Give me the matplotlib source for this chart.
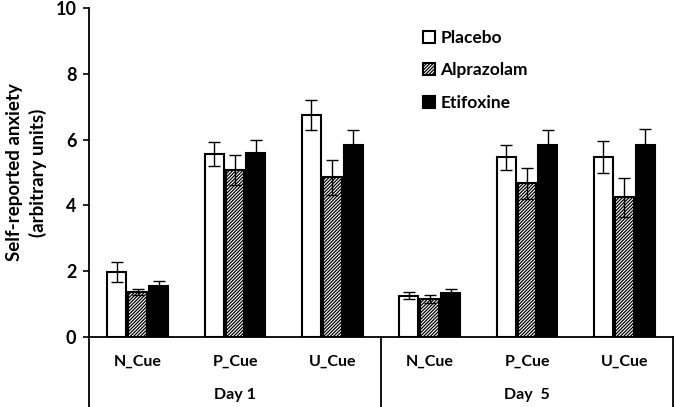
import numpy as np
import matplotlib as mpl
mpl.use('Agg')
import matplotlib.pyplot as plt

mpl.rcParams.update({
    'font.family': ['Lato', 'DejaVu Sans'],
    'font.weight': 'bold',
    'axes.labelweight': 'bold',
    'font.size': 11.5,
    'hatch.linewidth': 0.9,
})

cues = ['N_Cue', 'P_Cue', 'U_Cue', 'N_Cue', 'P_Cue', 'U_Cue']
days = ['Day 1', 'Day  5']
groups = ['Placebo', 'Alprazolam', 'Etifoxine']

placebo = [1.98, 5.57, 6.75, 1.25, 5.46, 5.46]
placebo_err = [0.30, 0.37, 0.45, 0.11, 0.38, 0.49]
alprazolam = [1.37, 5.08, 4.85, 1.16, 4.67, 4.25]
alprazolam_err = [0.10, 0.46, 0.53, 0.12, 0.48, 0.59]
etifoxine = [1.55, 5.58, 5.84, 1.33, 5.84, 5.84]
etifoxine_err = [0.15, 0.42, 0.45, 0.14, 0.45, 0.49]

fig = plt.figure(figsize=(6.76, 4.07), dpi=100)
ax = fig.add_axes([89 / 676, 70 / 407, 584 / 676, 329 / 407])

x = np.arange(len(cues))
w = 0.195
step = 0.215
ekw = dict(ecolor='black', elinewidth=1.0, capsize=4, capthick=1.0)

ax.bar(x - step, placebo, w, yerr=placebo_err, color='white',
       edgecolor='black', linewidth=1.5, error_kw=ekw, label=groups[0], zorder=2)
ax.bar(x, alprazolam, w, yerr=alprazolam_err, color='white',
       edgecolor='black', linewidth=1.5, hatch='//////////', error_kw=ekw,
       label=groups[1], zorder=2)
ax.bar(x + step, etifoxine, w, yerr=etifoxine_err, color='black',
       edgecolor='black', linewidth=1.5, error_kw=ekw, label=groups[2], zorder=2)

ax.set_xlim(-0.5, 5.5)
ax.set_ylim(0, 10)
ax.set_yticks(np.arange(0, 11, 2))
ax.set_xticks([])
ax.tick_params(axis='y', direction='out', length=4, width=1.2, labelsize=13, pad=5)
for s in ['top', 'right']:
    ax.spines[s].set_visible(False)
ax.spines['left'].set_linewidth(1.3)
ax.spines['bottom'].set_linewidth(1.3)

# category axis below zero line
trans = ax.get_xaxis_transform()
low = -70 / 329
for xv in [-0.5, 2.5, 5.5]:
    ax.plot([xv, xv], [0, low], color='black', lw=1.3, transform=trans,
            clip_on=False)
for xi, c in zip(x, cues):
    ax.text(xi, -25 / 329, c, transform=trans, ha='center', va='center',
            fontsize=11.5)
ax.text(1, -58 / 329, days[0], transform=trans, ha='center', va='center',
        fontsize=11.5)
ax.text(4, -58 / 329, days[1], transform=trans, ha='center', va='center',
        fontsize=11.5)

ax.set_ylabel('Self-reported anxiety\n(arbitrary units)', fontsize=13.5,
              linespacing=1.4, fontweight='bold')
ax.yaxis.set_label_coords(-0.072, 0.5)

ax.legend(loc='upper left', bbox_to_anchor=(0.56, 0.955), frameon=False,
          handlelength=0.7, handleheight=0.7, handletextpad=0.3,
          labelspacing=0.95, fontsize=12.5, borderaxespad=0)

fig.savefig('out.png', dpi=100)
